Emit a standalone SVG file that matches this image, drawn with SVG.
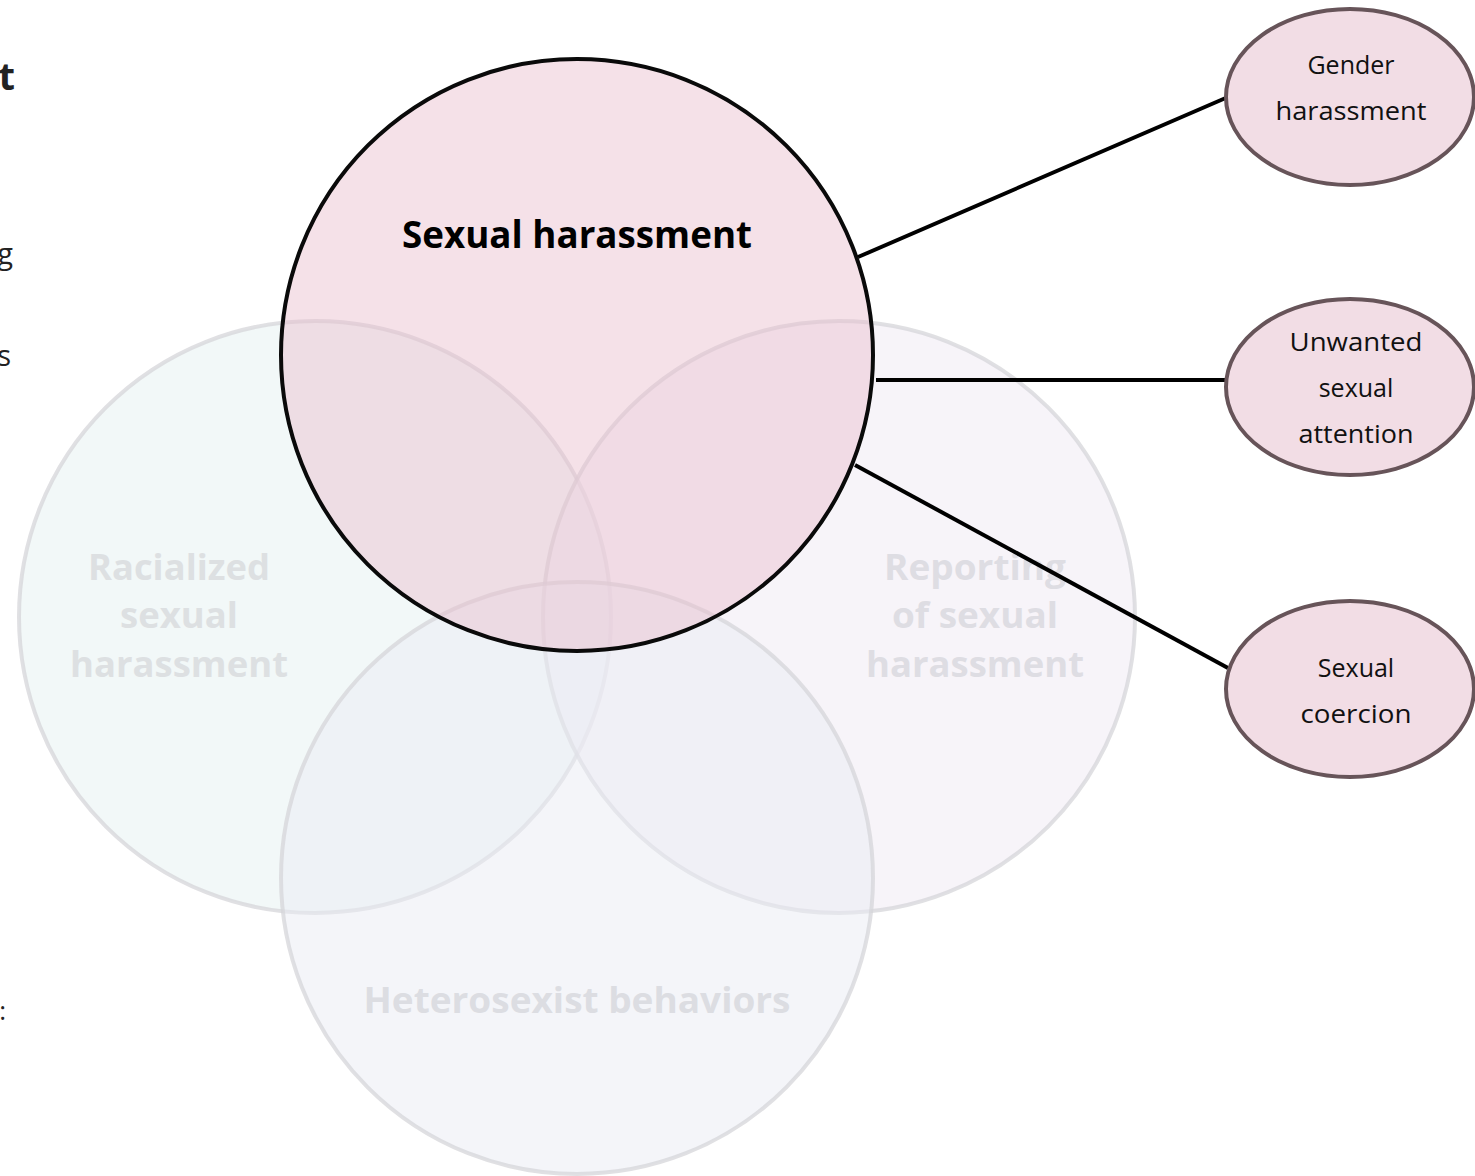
<svg xmlns="http://www.w3.org/2000/svg" width="1475" height="1176" viewBox="0 0 1475 1176">
  <style>
    .faint { stroke: #d6d6d9; stroke-width: 4; stroke-opacity: 0.75; }
    .faint-label { font-family: "Open Sans", "Noto Sans", sans-serif; font-weight: bold; font-size: 36px; text-anchor: middle; }
    .main { fill: #e8bccd; fill-opacity: 0.45; stroke: #0a0a0a; stroke-width: 4; }
    .main-label { font-family: "Open Sans", "Noto Sans", sans-serif; font-weight: bold; font-size: 38px; fill: #000; text-anchor: middle; }
    .sub { fill: #f2dde5; stroke: #675459; stroke-width: 4; }
    .sub-label { font-family: "Open Sans", "Noto Sans", sans-serif; font-size: 25px; fill: #111; text-anchor: middle; }
    .edge-text { font-family: "Open Sans", "Noto Sans", sans-serif; fill: #222; text-anchor: end; }
    .link { stroke: #000; stroke-width: 4; fill: none; }
  </style>

  <rect width="1475" height="1176" fill="#ffffff"/>

  <!-- clipped text from the adjacent column -->
  <g id="edge-text">
    <text class="edge-text" x="15" y="90" font-size="38" font-weight="bold">t</text>
    <text class="edge-text" x="13" y="264" font-size="29">g</text>
    <text class="edge-text" x="11" y="366" font-size="29">s</text>
    <text class="edge-text" x="6" y="1020" font-size="26">:</text>
  </g>

  <!-- background circles -->
  <g id="racialized">
    <circle class="faint" cx="315" cy="617" r="296" fill="#e6f2f2" fill-opacity="0.5"/>
  </g>
  <g id="reporting">
    <circle class="faint" cx="839" cy="617" r="296" fill="#efeaf4" fill-opacity="0.5"/>
  </g>
  <g id="heterosexist">
    <circle class="faint" cx="577" cy="878" r="296" fill="#e9ebf4" fill-opacity="0.5"/>
  </g>

  <g id="faint-labels">
    <text class="faint-label" fill="#dde0e2" x="179" y="580" textLength="182" lengthAdjust="spacingAndGlyphs">Racialized</text>
    <text class="faint-label" fill="#dde0e2" x="179" y="628" textLength="118" lengthAdjust="spacingAndGlyphs">sexual</text>
    <text class="faint-label" fill="#dde0e2" x="179" y="677" textLength="218" lengthAdjust="spacingAndGlyphs">harassment</text>
    <text class="faint-label" fill="#dedde3" x="975" y="580" textLength="182" lengthAdjust="spacingAndGlyphs">Reporting</text>
    <text class="faint-label" fill="#dedde3" x="975" y="628" textLength="166" lengthAdjust="spacingAndGlyphs">of sexual</text>
    <text class="faint-label" fill="#dedde3" x="975" y="677" textLength="218" lengthAdjust="spacingAndGlyphs">harassment</text>
    <text class="faint-label" fill="#dcdde2" x="577" y="1013" textLength="427" lengthAdjust="spacingAndGlyphs">Heterosexist behaviors</text>
  </g>

  <!-- main concept -->
  <g id="sexual-harassment">
    <circle class="main" cx="577" cy="355" r="296"/>
    <text class="main-label" x="577" y="248" textLength="350" lengthAdjust="spacingAndGlyphs">Sexual harassment</text>
  </g>

  <!-- connectors -->
  <g id="connectors">
    <line class="link" x1="858" y1="257" x2="1228" y2="97"/>
    <line class="link" x1="876" y1="380" x2="1228" y2="380"/>
    <line class="link" x1="855" y1="465" x2="1228" y2="668"/>
  </g>

  <!-- subtypes -->
  <g id="gender-harassment">
    <ellipse class="sub" cx="1350" cy="97" rx="124" ry="88"/>
    <text class="sub-label" x="1351" y="74">Gender</text>
    <text class="sub-label" x="1351" y="120" textLength="151" lengthAdjust="spacingAndGlyphs">harassment</text>
  </g>
  <g id="unwanted-sexual-attention">
    <ellipse class="sub" cx="1350" cy="387" rx="124" ry="88"/>
    <text class="sub-label" x="1356" y="351" textLength="133" lengthAdjust="spacingAndGlyphs">Unwanted</text>
    <text class="sub-label" x="1356" y="397">sexual</text>
    <text class="sub-label" x="1356" y="443" textLength="115" lengthAdjust="spacingAndGlyphs">attention</text>
  </g>
  <g id="sexual-coercion">
    <ellipse class="sub" cx="1350" cy="689" rx="124" ry="88"/>
    <text class="sub-label" x="1356" y="677">Sexual</text>
    <text class="sub-label" x="1356" y="723" textLength="111" lengthAdjust="spacingAndGlyphs">coercion</text>
  </g>
</svg>
